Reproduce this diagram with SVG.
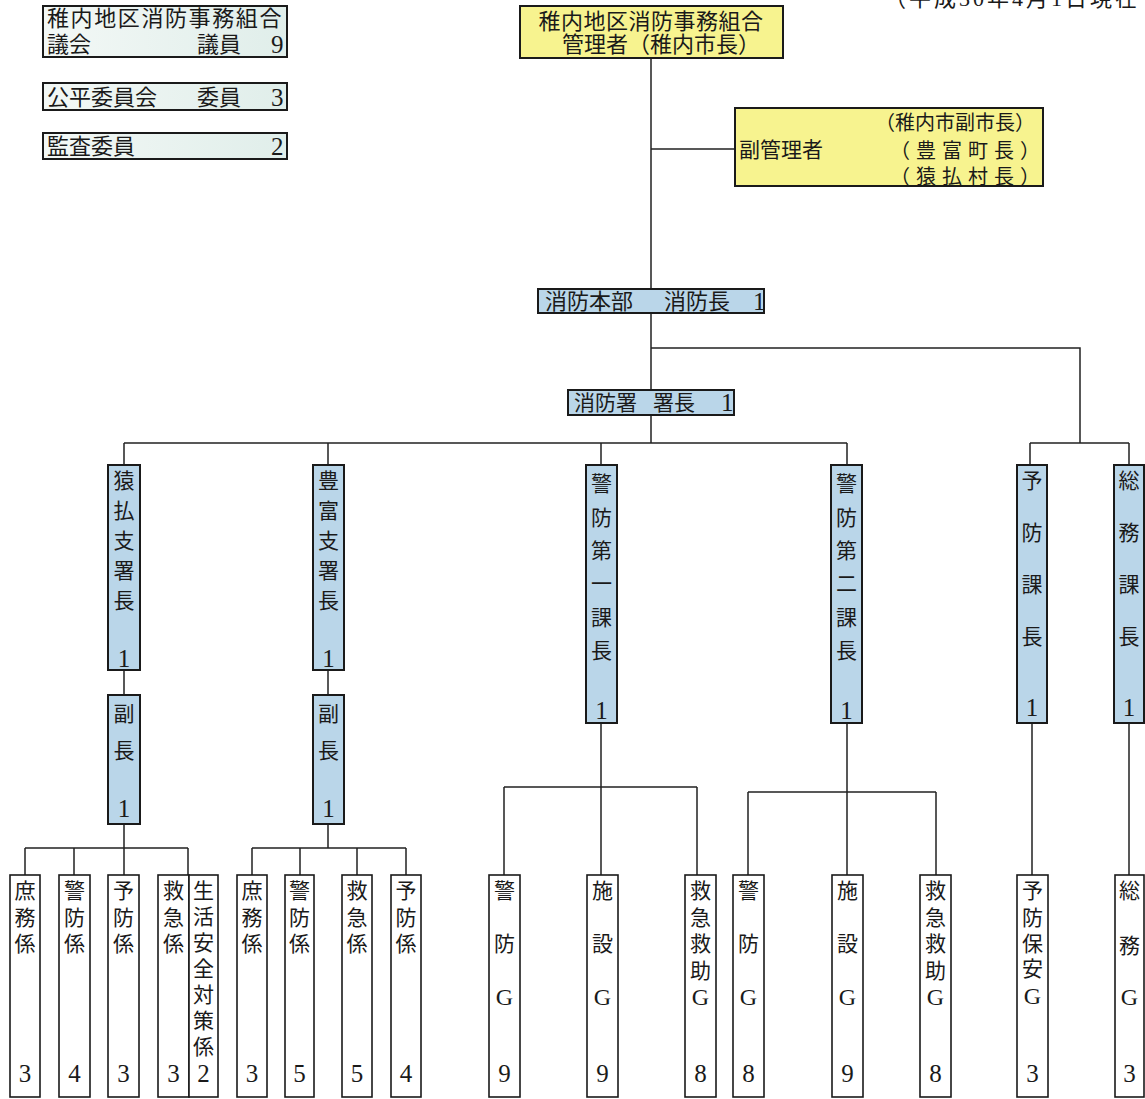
<svg xmlns="http://www.w3.org/2000/svg" width="1145" height="1099" viewBox="0 0 1145 1099">
<defs>
<linearGradient id="mintG" x1="0" y1="0" x2="1" y2="0">
<stop offset="0" stop-color="#f3f8f6"/>
<stop offset="1" stop-color="#e0eeea"/>
</linearGradient>
<style>
.t{font-family:'Liberation Serif','Noto Sans CJK JP',serif;fill:#1a1a1a;font-size:21px}
.v{text-anchor:middle}
.m{text-anchor:middle}
.d{font-size:25px}
.g{font-size:24px}
.blue{fill:#bad6e9;stroke:#1a1a1a;stroke-width:2}
.white{fill:#ffffff;stroke:#1a1a1a;stroke-width:1.6}
.yellow{fill:#f7f38f;stroke:#1a1a1a;stroke-width:2}
.mint{fill:url(#mintG);stroke:#1a1a1a;stroke-width:2}
.conn{stroke:#222;stroke-width:1.5;fill:none}
</style>
</defs>
<rect width="1145" height="1099" fill="#ffffff"/>

<text class="t" x="884" y="6" style="font-size:22px;letter-spacing:3px">（平成30年4月1日現在</text>

<g id="connectors" class="conn">
<path d="M651 58V290M651 149H735M651 313V390M651 348H1080V443M1030 443H1129M1030 443V465M1129 443V465"/>
<path d="M651 415V443M124 443H847M124 443V465M328 443V465M601 443V465M847 443V465"/>
<path d="M124 670V695M328 670V695"/>
<path d="M124 824V848M25 848H188M25 848V875M74 848V875M124 848V875M188 848V875"/>
<path d="M328 824V848M252 848H406M252 848V875M300 848V875M357 848V875M406 848V875"/>
<path d="M601 723V787M504 787H697M504 787V875M601 787V875M697 787V875"/>
<path d="M847 723V792M748 792H936M748 792V875M847 792V875M936 792V875"/>
<path d="M1032 723V875M1129 723V875"/>
</g>

<g id="gikai">
<rect class="mint" x="43" y="6" width="244" height="51"/>
<text class="t" x="47" y="26" style="font-size:22px;letter-spacing:1.6px">稚内地区消防事務組合</text>
<text class="t" x="47" y="52" style="font-size:22px">議会</text>
<text class="t" x="197" y="52" style="font-size:22px">議員</text>
<text class="t d" x="271" y="53">9</text>
</g>
<g id="kohei">
<rect class="mint" x="43" y="83" width="244" height="27"/>
<text class="t" x="47" y="105" style="font-size:22px">公平委員会</text>
<text class="t" x="197" y="105" style="font-size:22px">委員</text>
<text class="t d" x="271" y="106">3</text>
</g>
<g id="kansa">
<rect class="mint" x="43" y="133" width="244" height="26"/>
<text class="t" x="47" y="154" style="font-size:22px">監査委員</text>
<text class="t d" x="271" y="155">2</text>
</g>

<g id="kanrisha">
<rect class="yellow" x="520" y="6" width="263" height="52"/>
<text class="t m" x="651" y="29" style="font-size:22px;letter-spacing:0.5px">稚内地区消防事務組合</text>
<text class="t m" x="661" y="52" style="font-size:22px">管理者（稚内市長）</text>
</g>
<g id="fukukanrisha">
<rect class="yellow" x="735" y="108" width="308" height="78"/>
<text class="t" x="739" y="157">副管理者</text>
<text class="t" x="875" y="130" style="font-size:20px">（稚内市副市長）</text>
<text class="t" x="890" y="158" style="font-size:20px;letter-spacing:6px">（豊富町長）</text>
<text class="t" x="890" y="184" style="font-size:20px;letter-spacing:6px">（猿払村長）</text>
</g>

<g id="honbu">
<rect class="blue" x="538" y="289" width="226" height="24"/>
<text class="t" x="545" y="309" style="font-size:22px">消防本部</text>
<text class="t" x="664" y="309" style="font-size:22px">消防長</text>
<text class="t d" x="753" y="310">1</text>
</g>
<g id="shobosho">
<rect class="blue" x="568" y="390" width="166" height="25"/>
<text class="t" x="574" y="410" style="font-size:21px">消防署</text>
<text class="t" x="653" y="410" style="font-size:21px">署長</text>
<text class="t d" x="721" y="411">1</text>
</g>

<g id="sarufutsu">
<rect class="blue" x="108" y="465" width="32" height="205"/>
<text class="t v"><tspan x="124" y="488">猿</tspan><tspan x="124" y="518">払</tspan><tspan x="124" y="548">支</tspan><tspan x="124" y="578">署</tspan><tspan x="124" y="608">長</tspan><tspan class="d" x="124" y="667">1</tspan></text>
</g>
<g id="sarufutsu-fuku">
<rect class="blue" x="108" y="695" width="32" height="129"/>
<text class="t v"><tspan x="124" y="721">副</tspan><tspan x="124" y="758">長</tspan><tspan class="d" x="124" y="817">1</tspan></text>
</g>
<g id="toyotomi">
<rect class="blue" x="313" y="465" width="31" height="205"/>
<text class="t v"><tspan x="328.5" y="488">豊</tspan><tspan x="328.5" y="518">富</tspan><tspan x="328.5" y="548">支</tspan><tspan x="328.5" y="578">署</tspan><tspan x="328.5" y="608">長</tspan><tspan class="d" x="328.5" y="667">1</tspan></text>
</g>
<g id="toyotomi-fuku">
<rect class="blue" x="313" y="695" width="31" height="129"/>
<text class="t v"><tspan x="328.5" y="721">副</tspan><tspan x="328.5" y="758">長</tspan><tspan class="d" x="328.5" y="817">1</tspan></text>
</g>
<g id="keibo1">
<rect class="blue" x="586" y="465" width="31" height="258"/>
<text class="t v"><tspan x="601.5" y="491">警</tspan><tspan x="601.5" y="525">防</tspan><tspan x="601.5" y="558">第</tspan><tspan x="601.5" y="591">一</tspan><tspan x="601.5" y="625">課</tspan><tspan x="601.5" y="658">長</tspan><tspan class="d" x="601.5" y="719">1</tspan></text>
</g>
<g id="keibo2">
<rect class="blue" x="831" y="465" width="31" height="258"/>
<text class="t v"><tspan x="846.5" y="491">警</tspan><tspan x="846.5" y="525">防</tspan><tspan x="846.5" y="558">第</tspan><tspan x="846.5" y="591">二</tspan><tspan x="846.5" y="625">課</tspan><tspan x="846.5" y="658">長</tspan><tspan class="d" x="846.5" y="719">1</tspan></text>
</g>
<g id="yobo-ka">
<rect class="blue" x="1017" y="465" width="30" height="258"/>
<text class="t v"><tspan x="1032" y="488">予</tspan><tspan x="1032" y="540">防</tspan><tspan x="1032" y="592">課</tspan><tspan x="1032" y="644">長</tspan><tspan class="d" x="1032" y="716">1</tspan></text>
</g>
<g id="somu-ka">
<rect class="blue" x="1114" y="465" width="30" height="258"/>
<text class="t v"><tspan x="1129" y="488">総</tspan><tspan x="1129" y="540">務</tspan><tspan x="1129" y="592">課</tspan><tspan x="1129" y="644">長</tspan><tspan class="d" x="1129" y="716">1</tspan></text>
</g>

<g id="s-shomu">
<rect class="white" x="10" y="875" width="30" height="222"/>
<text class="t v"><tspan x="25" y="898">庶</tspan><tspan x="25" y="925">務</tspan><tspan x="25" y="951">係</tspan><tspan class="d" x="25" y="1082">3</tspan></text>
</g>
<g id="s-keibo">
<rect class="white" x="59" y="875" width="31" height="222"/>
<text class="t v"><tspan x="74.5" y="898">警</tspan><tspan x="74.5" y="925">防</tspan><tspan x="74.5" y="951">係</tspan><tspan class="d" x="74.5" y="1082">4</tspan></text>
</g>
<g id="s-yobo">
<rect class="white" x="108" y="875" width="31" height="222"/>
<text class="t v"><tspan x="123.5" y="898">予</tspan><tspan x="123.5" y="925">防</tspan><tspan x="123.5" y="951">係</tspan><tspan class="d" x="123.5" y="1082">3</tspan></text>
</g>
<g id="s-kyukyu">
<rect class="white" x="158" y="875" width="31" height="222"/>
<text class="t v"><tspan x="173.5" y="898">救</tspan><tspan x="173.5" y="925">急</tspan><tspan x="173.5" y="951">係</tspan><tspan class="d" x="173.5" y="1082">3</tspan></text>
</g>
<g id="s-seikatsu">
<rect class="white" x="189" y="875" width="29" height="222"/>
<text class="t v"><tspan x="203.5" y="898">生</tspan><tspan x="203.5" y="924">活</tspan><tspan x="203.5" y="950">安</tspan><tspan x="203.5" y="976">全</tspan><tspan x="203.5" y="1002">対</tspan><tspan x="203.5" y="1028">策</tspan><tspan x="203.5" y="1054">係</tspan><tspan class="d" x="203.5" y="1082">2</tspan></text>
</g>
<g id="t-shomu">
<rect class="white" x="237" y="875" width="30" height="222"/>
<text class="t v"><tspan x="252" y="898">庶</tspan><tspan x="252" y="925">務</tspan><tspan x="252" y="951">係</tspan><tspan class="d" x="252" y="1082">3</tspan></text>
</g>
<g id="t-keibo">
<rect class="white" x="285" y="875" width="29" height="222"/>
<text class="t v"><tspan x="299.5" y="898">警</tspan><tspan x="299.5" y="925">防</tspan><tspan x="299.5" y="951">係</tspan><tspan class="d" x="299.5" y="1082">5</tspan></text>
</g>
<g id="t-kyukyu">
<rect class="white" x="342" y="875" width="30" height="222"/>
<text class="t v"><tspan x="357" y="898">救</tspan><tspan x="357" y="925">急</tspan><tspan x="357" y="951">係</tspan><tspan class="d" x="357" y="1082">5</tspan></text>
</g>
<g id="t-yobo">
<rect class="white" x="391" y="875" width="30" height="222"/>
<text class="t v"><tspan x="406" y="898">予</tspan><tspan x="406" y="925">防</tspan><tspan x="406" y="951">係</tspan><tspan class="d" x="406" y="1082">4</tspan></text>
</g>
<g id="k1-keibo">
<rect class="white" x="489" y="875" width="31" height="222"/>
<text class="t v"><tspan x="504.5" y="898">警</tspan><tspan x="504.5" y="951">防</tspan><tspan class="g" x="504.5" y="1005">G</tspan><tspan class="d" x="504.5" y="1082">9</tspan></text>
</g>
<g id="k1-shisetsu">
<rect class="white" x="587" y="875" width="31" height="222"/>
<text class="t v"><tspan x="602.5" y="898">施</tspan><tspan x="602.5" y="951">設</tspan><tspan class="g" x="602.5" y="1005">G</tspan><tspan class="d" x="602.5" y="1082">9</tspan></text>
</g>
<g id="k1-kyujo">
<rect class="white" x="685" y="875" width="31" height="222"/>
<text class="t v"><tspan x="700.5" y="898">救</tspan><tspan x="700.5" y="925">急</tspan><tspan x="700.5" y="951">救</tspan><tspan x="700.5" y="978">助</tspan><tspan class="g" x="700.5" y="1005">G</tspan><tspan class="d" x="700.5" y="1082">8</tspan></text>
</g>
<g id="k2-keibo">
<rect class="white" x="733" y="875" width="31" height="222"/>
<text class="t v"><tspan x="748.5" y="898">警</tspan><tspan x="748.5" y="951">防</tspan><tspan class="g" x="748.5" y="1005">G</tspan><tspan class="d" x="748.5" y="1082">8</tspan></text>
</g>
<g id="k2-shisetsu">
<rect class="white" x="832" y="875" width="31" height="222"/>
<text class="t v"><tspan x="847.5" y="898">施</tspan><tspan x="847.5" y="951">設</tspan><tspan class="g" x="847.5" y="1005">G</tspan><tspan class="d" x="847.5" y="1082">9</tspan></text>
</g>
<g id="k2-kyujo">
<rect class="white" x="920" y="875" width="31" height="222"/>
<text class="t v"><tspan x="935.5" y="898">救</tspan><tspan x="935.5" y="925">急</tspan><tspan x="935.5" y="951">救</tspan><tspan x="935.5" y="978">助</tspan><tspan class="g" x="935.5" y="1005">G</tspan><tspan class="d" x="935.5" y="1082">8</tspan></text>
</g>
<g id="yobo-hoan">
<rect class="white" x="1017" y="875" width="31" height="222"/>
<text class="t v"><tspan x="1032.5" y="898">予</tspan><tspan x="1032.5" y="925">防</tspan><tspan x="1032.5" y="951">保</tspan><tspan x="1032.5" y="976">安</tspan><tspan class="g" x="1032.5" y="1004">G</tspan><tspan class="d" x="1032.5" y="1082">3</tspan></text>
</g>
<g id="somu-g">
<rect class="white" x="1115" y="875" width="29" height="222"/>
<text class="t v"><tspan x="1129.5" y="898">総</tspan><tspan x="1129.5" y="953">務</tspan><tspan class="g" x="1129.5" y="1005">G</tspan><tspan class="d" x="1129.5" y="1082">3</tspan></text>
</g>
</svg>
